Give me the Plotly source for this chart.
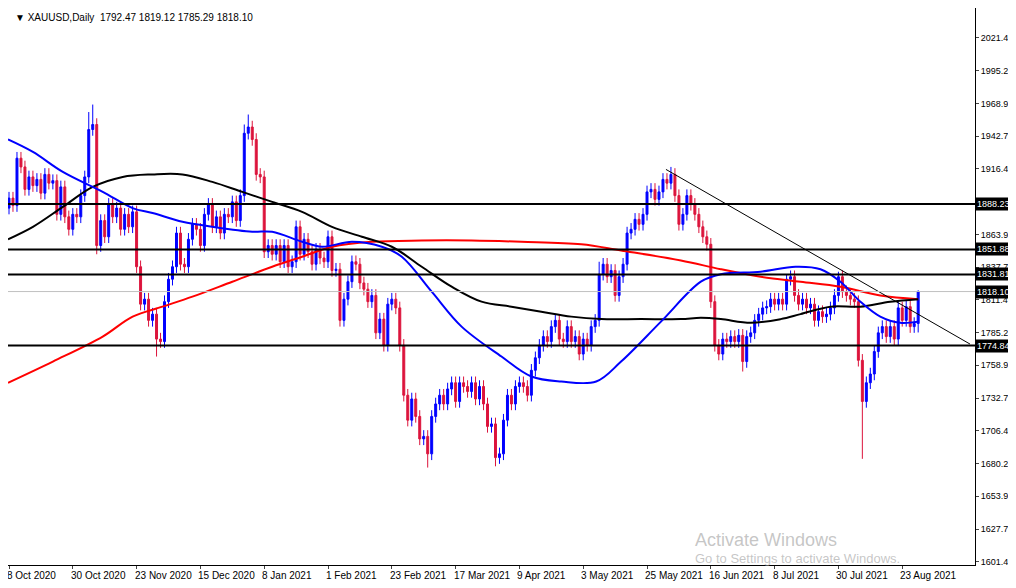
import plotly.graph_objects as go

tick_dates = ["8 Oct 2020","30 Oct 2020","23 Nov 2020","15 Dec 2020","8 Jan 2021","1 Feb 2021",
              "23 Feb 2021","17 Mar 2021","9 Apr 2021","3 May 2021","25 May 2021","16 Jun 2021",
              "8 Jul 2021","30 Jul 2021","23 Aug 2021"]
tick_idx = [i*16 for i in range(15)]

closes = [1893,1887,1925,1918,1900,1910,1903,1908,1897,1912,1905,1907,1880,1902,1878,1868,
          1880,1878,1895,1910,1948,1952,1855,1875,1862,1888,1878,1885,1868,1880,1870,1882,
          1838,1808,1812,1795,1800,1780,1778,1810,1828,1838,1865,1840,1838,1860,1872,1868,
          1855,1880,1888,1870,1878,1865,1880,1878,1890,1875,1895,1945,1950,1940,1912,1910,
          1850,1855,1848,1855,1842,1855,1838,1842,1870,1848,1860,1850,1840,1852,1845,1842,
          1862,1835,1836,1795,1812,1826,1842,1840,1825,1820,1810,1815,1785,1796,1775,1808,
          1812,1805,1775,1735,1715,1732,1718,1700,1702,1688,1718,1728,1735,1728,1740,1745,
          1730,1745,1742,1738,1745,1732,1742,1728,1710,1712,1685,1688,1715,1735,1728,1742,
          1745,1742,1735,1755,1765,1775,1782,1778,1790,1795,1780,1778,1790,1778,1782,1768,
          1780,1775,1790,1795,1832,1840,1830,1835,1815,1830,1840,1865,1868,1876,1872,1880,
          1898,1900,1892,1898,1908,1905,1912,1895,1872,1880,1895,1888,1880,1870,1862,1856,
          1810,1775,1768,1780,1778,1782,1778,1783,1762,1782,1785,1795,1800,1805,1806,1812,
          1808,1812,1808,1828,1830,1815,1808,1812,1805,1808,1795,1802,1798,1800,1805,1815,
          1830,1818,1815,1812,1810,1763,1730,1745,1752,1770,1785,1790,1782,1790,1780,1805,
          1795,1806,1790,1792.47,1818.10]
first_open = 1885
wick = 5
high_override = {20: 1962, 21: 1968, 59: 1952, 60: 1960, 148: 1842, 166: 1918, 195: 1832, 208: 1834, 228: 1819.12}
low_override = {22: 1848, 37: 1766, 105: 1677, 122: 1678, 184: 1754, 214: 1684, 228: 1785.29}

blue_x = [5,30,60,100,130,150,180,210,250,270,300,320,350,380,400,430,460,500,530,560,595,620,660,700,720,760,795,820,840,860,880,900,918]
blue_v = [1940,1930,1914,1898,1885,1881,1874,1870,1866,1866,1858,1854,1858,1854,1846,1818,1790,1766,1750,1746,1746,1762,1794,1826,1832,1834,1838,1836,1826,1810,1798,1793,1794]
black_x = [5,30,60,90,120,150,180,210,240,270,300,330,360,390,420,450,480,510,540,570,600,640,680,700,720,750,780,800,830,860,890,918]
black_v = [1860,1870,1886,1902,1910,1912,1912,1906,1898,1890,1882,1870,1862,1854,1838,1822,1810,1806,1802,1798,1796,1796,1796,1797,1796,1793,1796,1800,1806,1806,1810,1812]
red_x = [5,50,100,130,160,190,230,270,300,330,370,420,470,520,580,620,680,720,760,800,840,880,918]
red_v = [1745,1762,1782,1798,1806,1814,1826,1838,1846,1854,1858,1859,1859,1858,1856,1851,1843,1836,1830,1826,1822,1815,1812]

levels = [1888.23, 1851.88, 1831.81, 1774.84]
current = 1818.10
trend_i = [164.75, 241]
trend_v = [1916, 1776]
y_ticks = [1601.45 + 26.25*k for k in range(17)]

n = len(closes)
idx = list(range(n))
opens = [first_open] + closes[:-1]
opens[-1] = 1792.47
highs = [high_override.get(i, max(opens[i], closes[i]) + wick) for i in idx]
lows = [low_override.get(i, min(opens[i], closes[i]) - wick) for i in idx]
px2i = lambda xs: [(x - 6) / 4 for x in xs]

FONT = "Liberation Sans"
fig = go.Figure()
for lv in levels:
    fig.add_hline(y=lv, line=dict(color="black", width=2))
fig.add_hline(y=current, line=dict(color="#c0c0c0", width=1))
fig.add_trace(go.Scatter(x=px2i(red_x), y=red_v, mode="lines", line=dict(color="#ff0000", width=2, shape="spline")))
fig.add_trace(go.Scatter(x=px2i(black_x), y=black_v, mode="lines", line=dict(color="#000000", width=2, shape="spline")))
fig.add_trace(go.Scatter(x=px2i(blue_x), y=blue_v, mode="lines", line=dict(color="#0000ff", width=2, shape="spline")))
fig.add_trace(go.Scatter(x=trend_i, y=trend_v, mode="lines", line=dict(color="black", width=1)))
fig.add_trace(go.Candlestick(x=idx, open=opens, high=highs, low=lows, close=closes, whiskerwidth=0,
                             increasing=dict(line=dict(color="#0000ff", width=1), fillcolor="#0000ff"),
                             decreasing=dict(line=dict(color="#dc143c", width=1), fillcolor="#dc143c")))

for lv in levels + [current]:
    fig.add_annotation(x=1.0, xref="paper", y=lv, yref="y", xanchor="left", text=f"{lv:.2f}",
                       showarrow=False, bgcolor="black", font=dict(color="white", size=9, family=FONT),
                       borderpad=1, xshift=0)
for ti, tl in zip(tick_idx, tick_dates):
    fig.add_annotation(x=ti, xref="x", y=0, yref="paper", xanchor="left", yanchor="top", yshift=-3, xshift=-4,
                       text=tl, showarrow=False, font=dict(size=10, family=FONT, color="black"))
fig.add_annotation(x=0.005, xref="paper", y=0.997, yref="paper", xanchor="left", yanchor="top",
                   text="▼ XAUUSD,Daily  1792.47 1819.12 1785.29 1818.10", showarrow=False,
                   font=dict(size=10, family=FONT, color="black"))
fig.add_annotation(x=0.925, xref="paper", y=-0.005, yref="paper", xanchor="right", yanchor="bottom",
                   text="<span style='font-size:18px'>Activate Windows</span><br>Go to Settings to activate Windows.",
                   align="left", showarrow=False, font=dict(size=13, family=FONT, color="rgba(160,160,160,0.6)"))

fig.update_layout(width=1008, height=580, margin=dict(l=0, r=41, t=0, b=23),
                  paper_bgcolor="white", plot_bgcolor="white", showlegend=False,
                  xaxis=dict(range=[-0.25, 242.25], rangeslider=dict(visible=False), tickmode="array",
                             tickvals=tick_idx, showticklabels=False, showgrid=False, zeroline=False,
                             showline=True, mirror=True, linecolor="black", ticks="outside", ticklen=3,
                             automargin=False),
                  yaxis=dict(range=[1598.9, 2045.4], side="right", tickmode="array", tickvals=y_ticks,
                             ticktext=[f"{v:.2f}" for v in y_ticks], showgrid=False, zeroline=False,
                             showline=True, mirror=True, linecolor="black", ticks="outside", ticklen=3,
                             automargin=False, tickfont=dict(size=9, family=FONT, color="black")))
fig.write_html("out.html")
